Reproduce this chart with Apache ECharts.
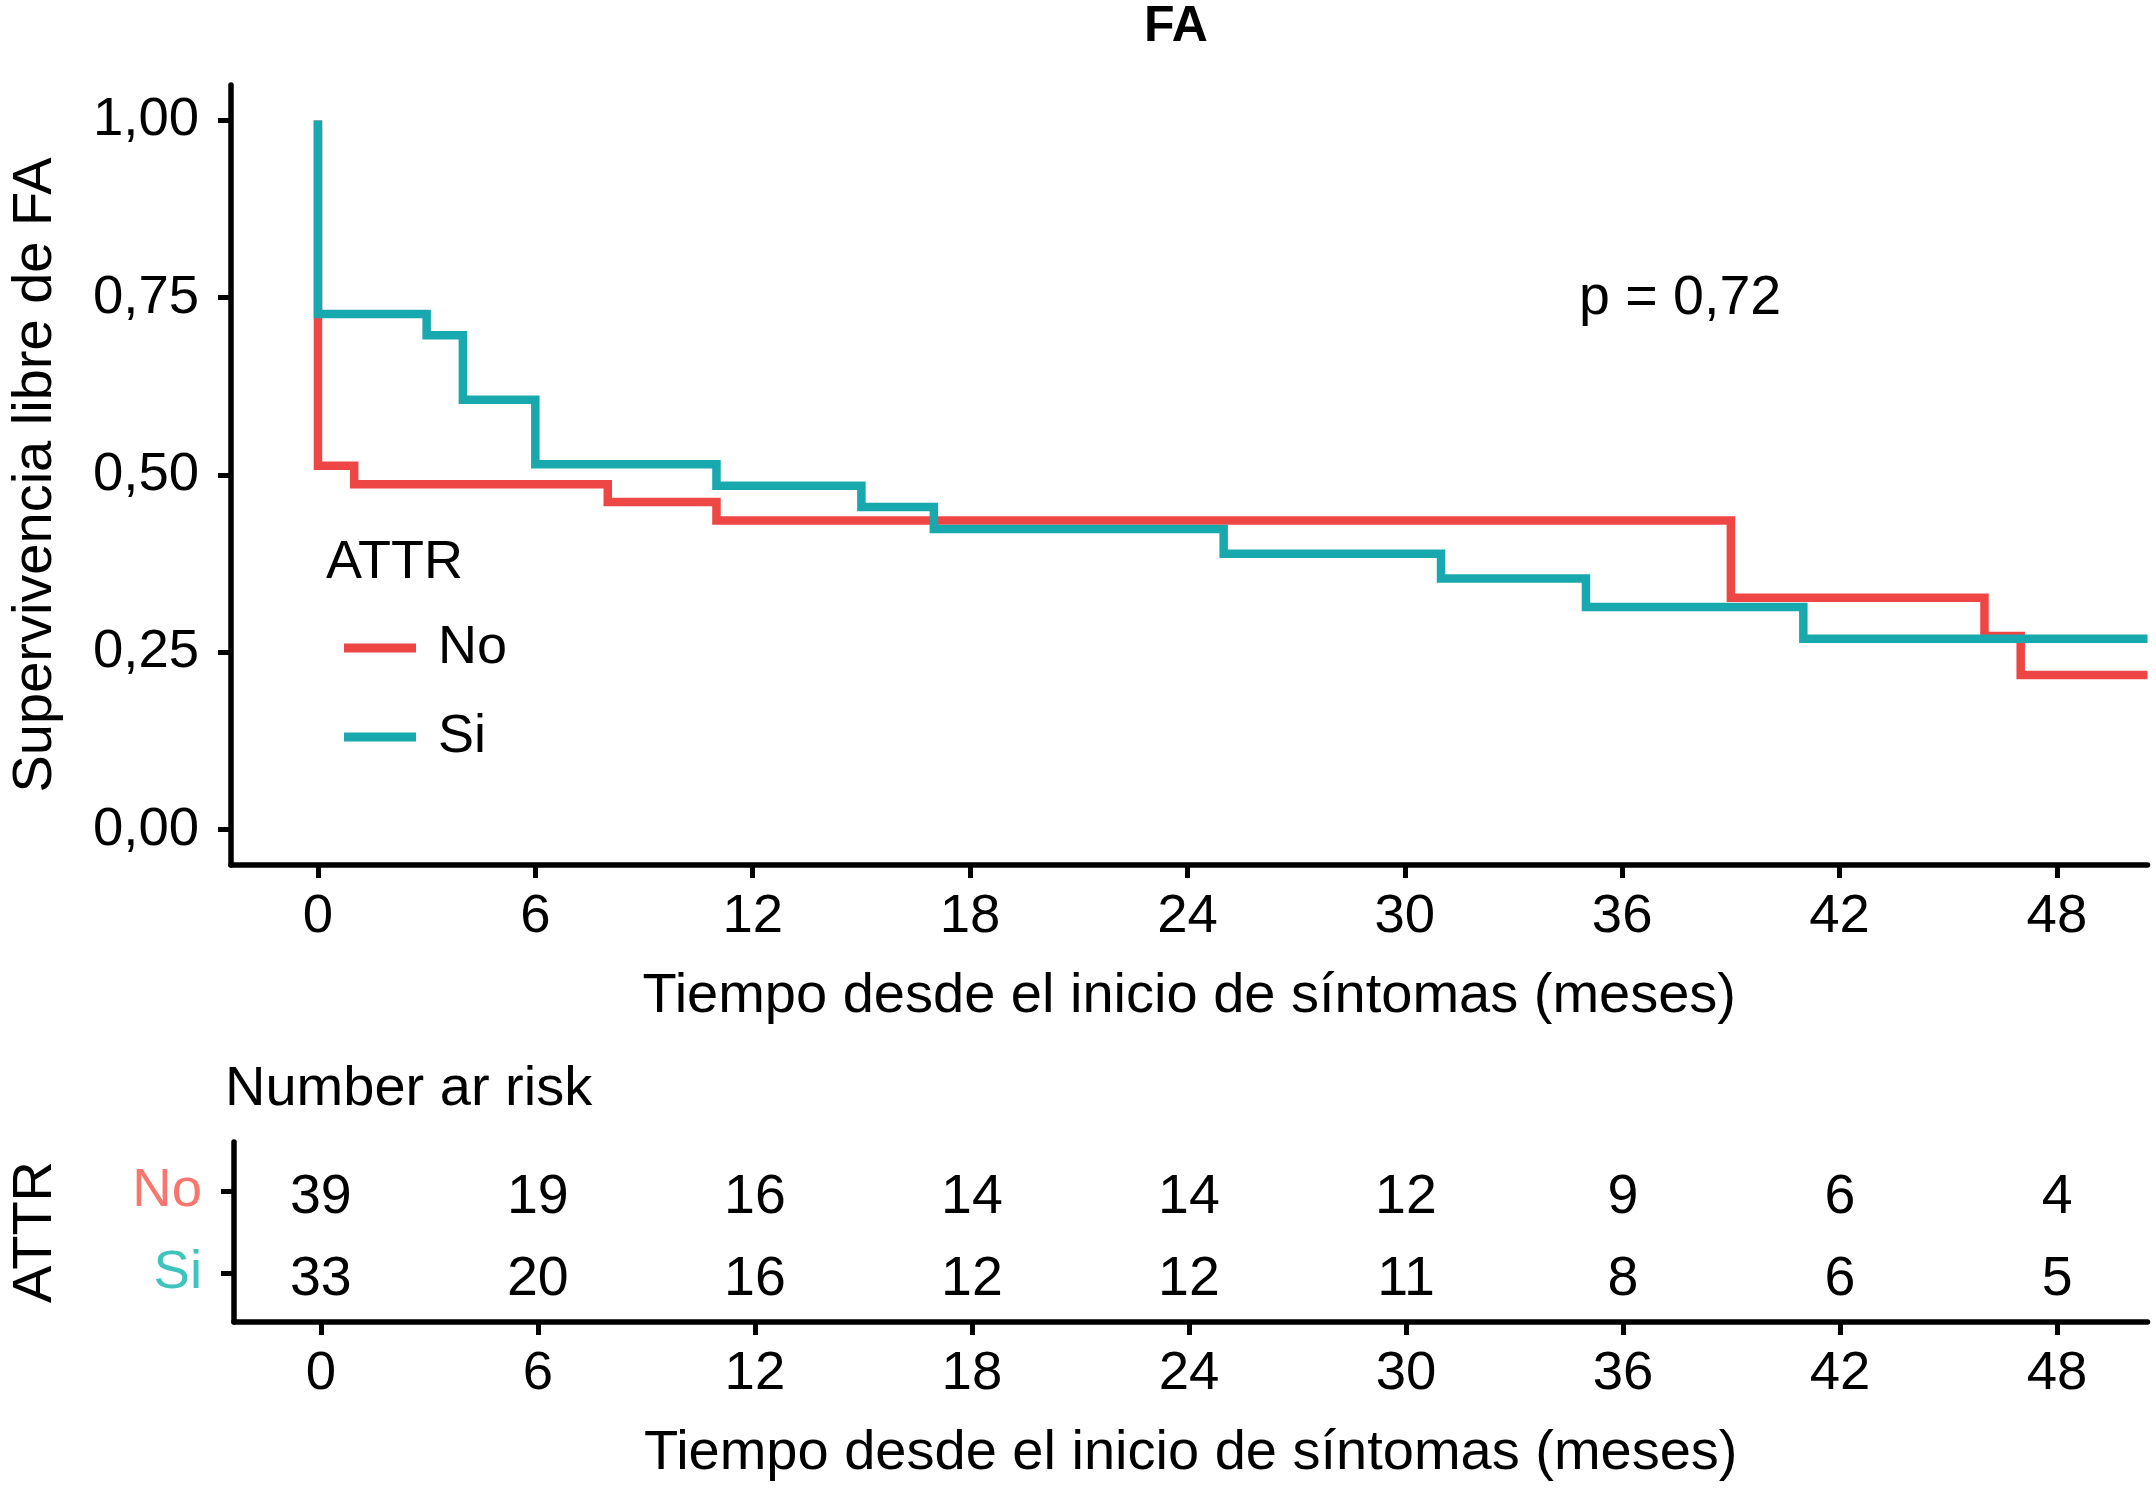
<!DOCTYPE html>
<html>
<head>
<meta charset="utf-8">
<script src="https://cdn.jsdelivr.net/npm/echarts@6/dist/echarts.min.js"></script>
<style>
html,body{margin:0;padding:0;background:#fff;}
#chart{width:2156px;height:1488px;}
</style>
</head>
<body>
<div id="chart"></div>
<script>
// ---- data ----
const groups = ['No', 'Si'];
const timeNo = [0, 0, 1, 8, 11, 39, 46, 47, 50.5];
const survNo = [1, 0.513, 0.487, 0.462, 0.436, 0.327, 0.273, 0.218, 0.218];
const timeSi = [0, 0, 3, 4, 6, 11, 15, 17, 25, 31, 35, 41, 50.5];
const survSi = [1, 0.727, 0.697, 0.606, 0.515, 0.485, 0.455, 0.424, 0.389, 0.354, 0.314, 0.269, 0.269];
const riskTimes = [0, 6, 12, 18, 24, 30, 36, 42, 48];
const riskNo = [39, 19, 16, 14, 14, 12, 9, 6, 4];
const riskSi = [33, 20, 16, 12, 12, 11, 8, 6, 5];
const xTicks = [0, 6, 12, 18, 24, 30, 36, 42, 48];
const yTicks = [0, 0.25, 0.5, 0.75, 1];
const pText = 'p = 0,72';

const FONT = '"Liberation Sans", Arial, Helvetica, sans-serif';
const RED = '#EE4545';
const TEAL = '#18A9AF';
const RED_LBL = '#F8766D';
const TEAL_LBL = '#3FC3BD';
const TICK_FS = 54.5;
const TITLE_FS = 56;

const chart = echarts.init(document.getElementById('chart'), null, {renderer: 'canvas'});

const zip = (a, b) => a.map((v, i) => [v, b[i]]);
const riskData = [];
riskTimes.forEach((t, i) => {
  riskData.push([t, 1, riskNo[i]]);
  riskData.push([t, 0, riskSi[i]]);
});

const axisLineStyle = {show: true, onZero: false, lineStyle: {color: '#000', width: 5.5}};
const tickStyle = {show: true, length: 13, lineStyle: {color: '#000', width: 5}};

const xAxisCommon = (gi) => ({
  type: 'value', gridIndex: gi, min: -2.4, max: 50.5,
  name: 'Tiempo desde el inicio de síntomas (meses)',
  nameLocation: 'middle', nameGap: 104,
  nameTextStyle: {fontSize: TITLE_FS, color: '#000', fontFamily: FONT},
  axisLine: axisLineStyle,
  axisTick: Object.assign({customValues: xTicks}, tickStyle),
  axisLabel: {customValues: xTicks, fontSize: TICK_FS, color: '#000', fontFamily: FONT, margin: 24},
  splitLine: {show: false}
});

const option = {
  backgroundColor: '#fff',
  animation: false,
  grid: [
    {left: 225, right: 8.5, top: 85, height: 780},
    {left: 225, right: 8.5, top: 1142, height: 180}
  ],
  xAxis: [xAxisCommon(0), xAxisCommon(1)],
  yAxis: [
    {
      type: 'value', gridIndex: 0, min: -0.05, max: 1.05,
      name: 'Supervivencia libre de FA', nameLocation: 'middle', nameGap: 167, nameRotate: 90,
      nameTextStyle: {fontSize: TITLE_FS, color: '#000', fontFamily: FONT},
      axisLine: axisLineStyle,
      axisTick: Object.assign({customValues: yTicks}, tickStyle),
      axisLabel: {customValues: yTicks, fontSize: TICK_FS, color: '#000', fontFamily: FONT, margin: 32,
        formatter: v => v.toFixed(2).replace('.', ',')},
      splitLine: {show: false}
    },
    {
      type: 'value', gridIndex: 1, min: -0.6, max: 1.6,
      name: 'ATTR', nameLocation: 'middle', nameGap: 170, nameRotate: 90,
      nameTextStyle: {fontSize: TITLE_FS, color: '#000', fontFamily: FONT},
      axisLine: axisLineStyle,
      axisTick: Object.assign({customValues: [0, 1]}, tickStyle),
      axisLabel: {customValues: [0, 1], margin: 32, fontFamily: FONT,
        formatter: v => v === 1 ? '{no|' + groups[0] + '}' : '{si|' + groups[1] + '}',
        rich: {
          no: {fontSize: TICK_FS, color: RED_LBL, fontFamily: FONT},
          si: {fontSize: TICK_FS, color: TEAL_LBL, fontFamily: FONT}
        }},
      splitLine: {show: false}
    }
  ],
  legend: {
    orient: 'vertical', left: 339, top: 613, itemWidth: 72, itemHeight: 9, itemGap: 29,
    icon: 'rect',
    data: groups,
    textStyle: {fontSize: 54, color: '#000', fontFamily: FONT, lineHeight: 60, padding: [0, 0, 0, 17]}
  },
  series: [
    {
      name: groups[0], type: 'line', step: 'end', xAxisIndex: 0, yAxisIndex: 0,
      data: zip(timeNo, survNo), symbol: 'none', color: RED,
      itemStyle: {color: RED},
      lineStyle: {color: RED, width: 8.5, cap: 'butt', join: 'miter'}, z: 2
    },
    {
      name: groups[1], type: 'line', step: 'end', xAxisIndex: 0, yAxisIndex: 0,
      data: zip(timeSi, survSi), symbol: 'none', color: TEAL,
      itemStyle: {color: TEAL},
      lineStyle: {color: TEAL, width: 8.5, cap: 'butt', join: 'miter'}, z: 3
    },
    {
      type: 'custom', xAxisIndex: 1, yAxisIndex: 1, data: riskData,
      renderItem: (params, api) => {
        const p = api.coord([api.value(0), api.value(1)]);
        return {type: 'text', x: p[0], y: p[1] + 7,
          style: {text: String(api.value(2)), fontSize: TICK_FS + 1, fill: '#000', fontFamily: FONT,
            align: 'center', verticalAlign: 'middle'}};
      }
    }
  ],
  graphic: [
    {type: 'text', x: 1176, y: 27, style: {text: 'FA', fontSize: 50, fontWeight: 'bold', fill: '#000', fontFamily: FONT, align: 'center', verticalAlign: 'middle'}},
    {type: 'text', x: 1579, y: 299, style: {text: pText, fontSize: 55.5, fill: '#000', fontFamily: FONT, align: 'left', verticalAlign: 'middle'}},
    {type: 'text', x: 225, y: 1090, style: {text: 'Number ar risk', fontSize: TITLE_FS, fill: '#000', fontFamily: FONT, align: 'left', verticalAlign: 'middle'}},
    {type: 'text', x: 326, y: 563, style: {text: 'ATTR', fontSize: 54, fill: '#000', fontFamily: FONT, align: 'left', verticalAlign: 'middle'}}
  ]
};
chart.setOption(option);
</script>
</body>
</html>
